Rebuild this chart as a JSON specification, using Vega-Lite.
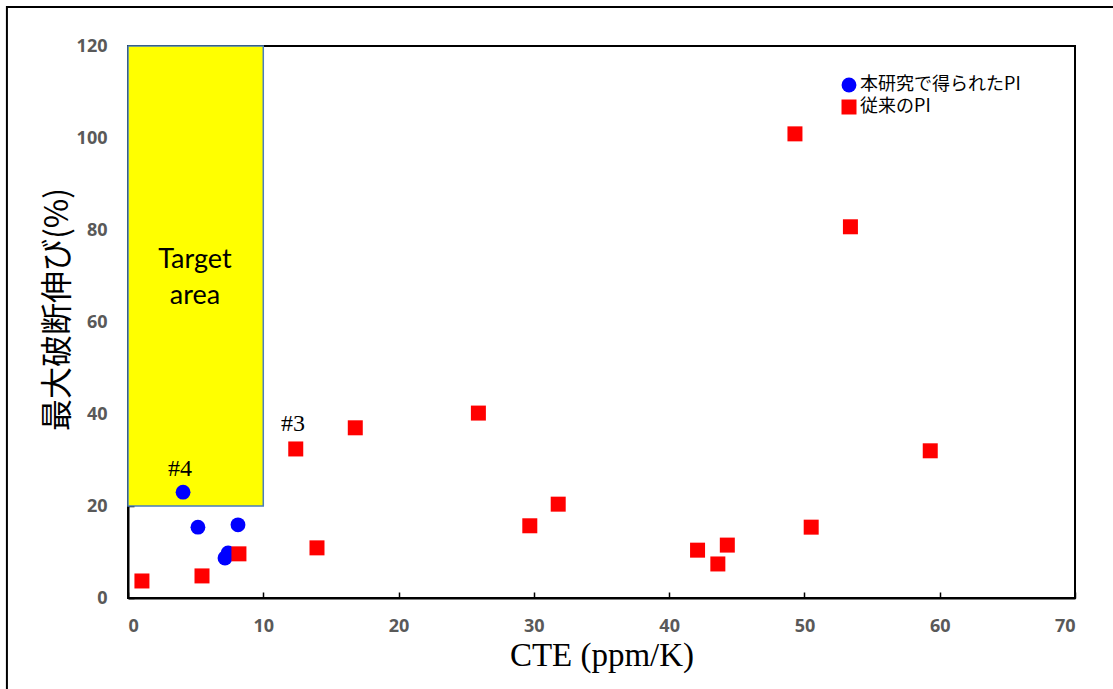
{
  "$schema": "https://vega.github.io/schema/vega-lite/v6.json",
  "autosize": "none",
  "width": 947,
  "height": 552,
  "padding": {"left": 128, "top": 46, "right": 38, "bottom": 91},
  "background": "white",
  "config": {
    "view": {"stroke": "black", "strokeWidth": 2}
  },
  "datasets": {
    "pts": [
      {"cte": 4.07, "elong": 23.0, "series": "本研究で得られたPI"},
      {"cte": 5.17, "elong": 15.4, "series": "本研究で得られたPI"},
      {"cte": 8.13, "elong": 15.9, "series": "本研究で得られたPI"},
      {"cte": 7.4, "elong": 9.8, "series": "本研究で得られたPI"},
      {"cte": 7.17, "elong": 8.7, "series": "本研究で得られたPI"},
      {"cte": 1.03, "elong": 3.7, "series": "従来のPI"},
      {"cte": 5.47, "elong": 4.8, "series": "従来のPI"},
      {"cte": 8.2, "elong": 9.6, "series": "従来のPI"},
      {"cte": 13.97, "elong": 10.9, "series": "従来のPI"},
      {"cte": 12.4, "elong": 32.4, "series": "従来のPI"},
      {"cte": 16.8, "elong": 37.0, "series": "従来のPI"},
      {"cte": 25.9, "elong": 40.2, "series": "従来のPI"},
      {"cte": 29.7, "elong": 15.7, "series": "従来のPI"},
      {"cte": 31.8, "elong": 20.4, "series": "従来のPI"},
      {"cte": 42.1, "elong": 10.4, "series": "従来のPI"},
      {"cte": 43.6, "elong": 7.4, "series": "従来のPI"},
      {"cte": 44.3, "elong": 11.5, "series": "従来のPI"},
      {"cte": 49.3, "elong": 100.9, "series": "従来のPI"},
      {"cte": 50.5, "elong": 15.4, "series": "従来のPI"},
      {"cte": 53.4, "elong": 80.7, "series": "従来のPI"},
      {"cte": 59.3, "elong": 32.0, "series": "従来のPI"}
    ]
  },
  "layer": [
    {
      "data": {"values": [{"x": -8.95, "x2": 80, "y": 128.5, "y2": -30}]},
      "mark": {"type": "rect", "fill": null, "stroke": "black", "strokeWidth": 2, "clip": false},
      "encoding": {
        "x": {"field": "x", "type": "quantitative", "scale": {"domain": [0, 70], "nice": false}},
        "x2": {"field": "x2"},
        "y": {"field": "y", "type": "quantitative", "scale": {"domain": [0, 120], "nice": false}},
        "y2": {"field": "y2"}
      }
    },
    {
      "data": {"values": [{"x": 0, "x2": 10, "y": 20, "y2": 120}]},
      "mark": {"type": "rect", "fill": "#ffff00", "stroke": "#4a7ebb", "strokeWidth": 1.5},
      "encoding": {
        "x": {"field": "x", "type": "quantitative"},
        "x2": {"field": "x2"},
        "y": {"field": "y", "type": "quantitative"},
        "y2": {"field": "y2"}
      }
    },
    {
      "data": {"values": [{"x": 4.95, "y": 73.4, "label": ["Target", "area"]}]},
      "mark": {"type": "text", "font": "Lato", "fontSize": 27, "lineHeight": 36, "color": "black", "align": "center", "baseline": "middle"},
      "encoding": {
        "x": {"field": "x", "type": "quantitative"},
        "y": {"field": "y", "type": "quantitative"},
        "text": {"field": "label"}
      }
    },
    {
      "data": {"values": [{"x": 12.2, "y": 37.8, "label": "#3"}, {"x": 3.84, "y": 28.0, "label": "#4"}]},
      "mark": {"type": "text", "font": "Liberation Serif", "fontSize": 24, "color": "black", "align": "center", "baseline": "middle"},
      "encoding": {
        "x": {"field": "x", "type": "quantitative"},
        "y": {"field": "y", "type": "quantitative"},
        "text": {"field": "label"}
      }
    },
    {
      "data": {"name": "pts"},
      "mark": {"type": "point", "filled": true, "opacity": 1},
      "encoding": {
        "x": {
          "field": "cte", "type": "quantitative",
          "scale": {"domain": [0, 70], "nice": false},
          "axis": {"values": [0, 10, 20, 30, 40, 50, 60, 70], "grid": false, "domainColor": "black", "domainWidth": 2, "tickColor": "black", "tickWidth": 1.5, "tickSize": -6, "labelFont": "Open Sans", "labelFontWeight": "bold", "labelFontSize": 18, "labelColor": "#595959", "title": "CTE (ppm/K)", "titleFont": "Liberation Serif", "titleFontSize": 33, "titleFontWeight": "normal", "titleColor": "black", "labelPadding": 25, "titlePadding": 4}
        },
        "y": {
          "field": "elong", "type": "quantitative",
          "scale": {"domain": [0, 120], "nice": false},
          "axis": {"values": [0, 20, 40, 60, 80, 100, 120], "grid": false, "domainColor": "black", "domainWidth": 2, "tickColor": "black", "tickWidth": 1.5, "tickSize": -6, "labelFont": "Open Sans", "labelFontWeight": "bold", "labelFontSize": 18, "labelColor": "#595959", "title": "最大破断伸び(%)", "titleFont": "Noto Sans CJK JP", "titleFontSize": 32, "titleFontWeight": "normal", "titleColor": "black", "titleY": 263, "labelPadding": 27, "titlePadding": 2}
        },
        "color": {
          "field": "series", "type": "nominal",
          "scale": {"domain": ["本研究で得られたPI", "従来のPI"], "range": ["#0000ff", "#ff0000"]},
          "legend": {
            "title": null, "orient": "none", "legendX": 712, "legendY": 30,
            "labelFont": "Noto Sans CJK JP", "labelFontSize": 18, "labelColor": "black", "labelLimit": 400,
            "symbolSize": 230, "symbolStrokeWidth": 0, "rowPadding": 4, "labelOffset": 2
          }
        },
        "shape": {
          "field": "series", "type": "nominal",
          "scale": {"domain": ["本研究で得られたPI", "従来のPI"], "range": ["circle", "square"]}
        },
        "size": {
          "field": "series", "type": "nominal",
          "scale": {"domain": ["本研究で得られたPI", "従来のPI"], "range": [220, 225]},
          "legend": null
        }
      }
    }
  ]
}
